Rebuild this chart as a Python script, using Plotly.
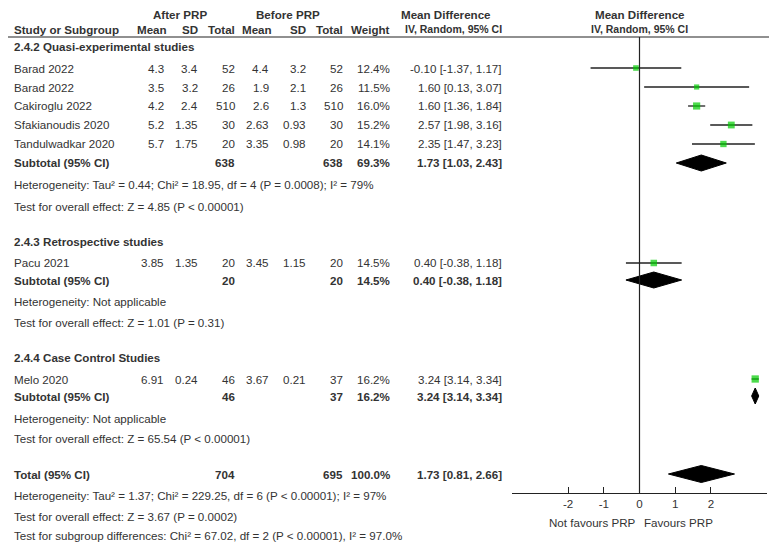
import plotly.graph_objects as go

# ---- data ----
studies = ["Barad 2022", "Barad 2022", "Cakiroglu 2022", "Sfakianoudis 2020",
           "Tandulwadkar 2020", "Pacu 2021", "Melo 2020"]
study_group = [0, 0, 0, 0, 0, 1, 2]
after_mean = [4.3, 3.5, 4.2, 5.2, 5.7, 3.85, 6.91]
after_sd = [3.4, 3.2, 2.4, 1.35, 1.75, 1.35, 0.24]
after_n = [52, 26, 510, 30, 20, 20, 46]
before_mean = [4.4, 1.9, 2.6, 2.63, 3.35, 3.45, 3.67]
before_sd = [3.2, 2.1, 1.3, 0.93, 0.98, 1.15, 0.21]
before_n = [52, 26, 510, 30, 20, 20, 37]
weights = [12.4, 11.5, 16.0, 15.2, 14.1, 14.5, 16.2]
md = [-0.10, 1.60, 1.60, 2.57, 2.35, 0.40, 3.24]
ci_lo = [-1.37, 0.13, 1.36, 1.98, 1.47, -0.38, 3.14]
ci_hi = [1.17, 3.07, 1.84, 3.16, 3.23, 1.18, 3.34]

groups = ["2.4.2 Quasi-experimental studies", "2.4.3 Retrospective studies",
          "2.4.4 Case Control Studies"]
sub_after_n = [638, 20, 46]
sub_before_n = [638, 20, 37]
sub_weight = [69.3, 14.5, 16.2]
sub_md = [1.73, 0.40, 3.24]
sub_lo = [1.03, -0.38, 3.14]
sub_hi = [2.43, 1.18, 3.34]
sub_het = ["Heterogeneity: Tau² = 0.44; Chi² = 18.95, df = 4 (P = 0.0008); I² = 79%",
           "Heterogeneity: Not applicable",
           "Heterogeneity: Not applicable"]
sub_test = ["Test for overall effect: Z = 4.85 (P < 0.00001)",
            "Test for overall effect: Z = 1.01 (P = 0.31)",
            "Test for overall effect: Z = 65.54 (P < 0.00001)"]

total_after_n = 704
total_before_n = 695
total_weight = 100.0
total_md, total_lo, total_hi = 1.73, 0.81, 2.66
total_notes = ["Heterogeneity: Tau² = 1.37; Chi² = 229.25, df = 6 (P < 0.00001); I² = 97%",
               "Test for overall effect: Z = 3.67 (P = 0.0002)",
               "Test for subgroup differences: Chi² = 67.02, df = 2 (P < 0.00001), I² = 97.0%"]

tick_vals = [-2, -1, 0, 1, 2]
tick_labels = ["-2", "-1", "0", "1", "2"]

# ---- layout (page pixels; the html body adds an 8px margin) ----
OFF = 8
PAGE_W, PAGE_H = 777, 543
W, H = PAGE_W - OFF, PAGE_H - OFF
head_y = [14, 29]
study_y = [68, 87, 106, 125, 144, 263, 379]
group_y = [47, 241, 357]
sub_y = [163, 280, 396]
het_y = [185, 301, 418]
test_y = [206, 322, 438]
total_y = 474
total_note_y = [495, 516, 535]
axis_y = 492.7
head_line_y = 37
col_x = dict(a_mean=164, a_sd=198, a_n=235, b_mean=269, b_sd=306, b_n=343, w=390, ci=502)

FONT = "Liberation Sans, Arial, sans-serif"
TXT = "#333333"
FS = 11.6
GREEN = "#00cc00"

annotations = []


def txt(x, y, s, anchor="right", bold=False, size=FS):
    annotations.append(dict(
        x=(x - OFF) / W, y=1 - (y - OFF) / H, xref="paper", yref="paper",
        text=f"<b>{s}</b>" if bold else s, borderpad=0, borderwidth=0,
        showarrow=False, xanchor=anchor, yanchor="middle",
        font=dict(family=FONT, size=size, color=TXT),
    ))


def fmt_ci(m, lo, hi):
    return f"{m:.2f} [{lo:.2f}, {hi:.2f}]"


# headers
txt(180, head_y[0], "After PRP", "center", True)
txt(288, head_y[0], "Before PRP", "center", True)
txt(446, head_y[0], "Mean Difference", "center", True)
txt(640, head_y[0], "Mean Difference", "center", True)
txt(14, head_y[1], "Study or Subgroup", "left", True)
for key, lab in [("a_mean", "Mean"), ("a_sd", "SD"), ("a_n", "Total"),
                 ("b_mean", "Mean"), ("b_sd", "SD"), ("b_n", "Total"), ("w", "Weight")]:
    txt(col_x[key] + (3 if key in ("a_mean", "b_mean") else 0), head_y[1], lab, "right", True)
txt(col_x["ci"], head_y[1], "IV, Random, 95% CI", "right", True, 10.5)
txt(639, head_y[1], "IV, Random, 95% CI", "center", True, 10.5)

# study rows
for i, name in enumerate(studies):
    y = study_y[i]
    txt(14, y, name, "left")
    txt(col_x["a_mean"], y, str(after_mean[i]))
    txt(col_x["a_sd"], y, str(after_sd[i]))
    txt(col_x["a_n"], y, str(after_n[i]))
    txt(col_x["b_mean"], y, str(before_mean[i]))
    txt(col_x["b_sd"], y, str(before_sd[i]))
    txt(col_x["b_n"], y, str(before_n[i]))
    txt(col_x["w"], y, f"{weights[i]:.1f}%")
    txt(col_x["ci"], y, fmt_ci(md[i], ci_lo[i], ci_hi[i]))

# subgroup rows
for g, gname in enumerate(groups):
    txt(14, group_y[g], gname, "left", True)
    y = sub_y[g]
    txt(14, y, "Subtotal (95% CI)", "left", True)
    txt(col_x["a_n"], y, str(sub_after_n[g]), bold=True)
    txt(col_x["b_n"], y, str(sub_before_n[g]), bold=True)
    txt(col_x["w"], y, f"{sub_weight[g]:.1f}%", bold=True)
    txt(col_x["ci"], y, fmt_ci(sub_md[g], sub_lo[g], sub_hi[g]), bold=True)
    txt(14, het_y[g], sub_het[g], "left")
    txt(14, test_y[g], sub_test[g], "left")

# total
txt(14, total_y, "Total (95% CI)", "left", True)
txt(col_x["a_n"], total_y, str(total_after_n), bold=True)
txt(col_x["b_n"], total_y, str(total_before_n), bold=True)
txt(col_x["w"], total_y, f"{total_weight:.1f}%", bold=True)
txt(col_x["ci"], total_y, fmt_ci(total_md, total_lo, total_hi), bold=True)
for y, s in zip(total_note_y, total_notes):
    txt(14, y, s, "left")

txt(592, 522, "Not favours PRP", "center")
txt(678, 522, "Favours PRP", "center")

fig = go.Figure()

# confidence intervals
for i in range(len(studies)):
    fig.add_trace(go.Scatter(
        x=[ci_lo[i], ci_hi[i]], y=[study_y[i], study_y[i]], mode="lines",
        line=dict(color="#222222", width=1.3), hoverinfo="skip", showlegend=False,
    ))

# study squares sized by weight
fig.add_trace(go.Scatter(
    x=md, y=study_y, mode="markers",
    marker=dict(symbol="square", color=GREEN, size=[w * 0.45 for w in weights], line=dict(width=0)),
    showlegend=False,
))


def diamond(m, lo, hi, y, h):
    fig.add_trace(go.Scatter(
        x=[lo, m, hi, m, lo], y=[y, y - h, y, y + h, y], mode="lines", fill="toself",
        fillcolor="black", line=dict(color="black", width=1), hoverinfo="skip", showlegend=False,
    ))


for g in range(len(groups)):
    diamond(sub_md[g], sub_lo[g], sub_hi[g], sub_y[g], 8)
diamond(total_md, total_lo, total_hi, total_y, 8.5)

# zero line and header rule
fig.add_shape(type="line", xref="x", yref="y", x0=0, x1=0, y0=head_line_y, y1=axis_y,
              line=dict(color="#222222", width=1.2))
fig.add_shape(type="line", xref="paper", yref="y", x0=0, x1=1, y0=head_line_y, y1=head_line_y,
              line=dict(color="#222222", width=1.2))

fig.update_layout(
    width=W, height=H,
    margin=dict(l=0, r=0, t=0, b=0),
    paper_bgcolor="white", plot_bgcolor="white",
    annotations=annotations,
    showlegend=False,
    xaxis=dict(
        domain=[(512 - OFF) / W, (767 - OFF) / W], range=[-3.57, 3.57], anchor="free",
        position=1 - (axis_y - OFF) / H,
        showgrid=False, zeroline=False, showline=True, linecolor="#222222", linewidth=1.2,
        ticks="inside", ticklen=6, tickcolor="#222222", tickwidth=1.2,
        tickvals=tick_vals, ticktext=tick_labels,
        tickfont=dict(family=FONT, size=FS, color=TXT),
    ),
    yaxis=dict(domain=[0, 1], range=[PAGE_H, OFF], visible=False),
)

fig.write_html("out.html")
